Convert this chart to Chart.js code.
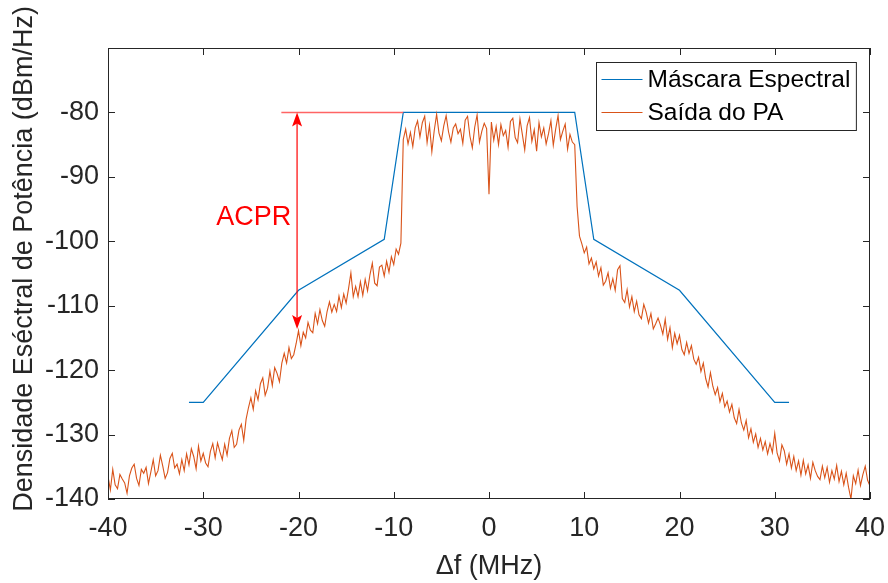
<!DOCTYPE html>
<html>
<head>
<meta charset="utf-8">
<title>Máscara Espectral e Saída do PA</title>
<script src="https://cdn.jsdelivr.net/npm/chart.js@4.4.1/dist/chart.umd.min.js"></script>
<style>
    html, body { margin: 0; padding: 0; background: #ffffff; }
    #wrap { width: 888px; height: 583px; }
</style>
</head>
<body>
<div id="wrap"><canvas id="psdChart" width="888" height="583"></canvas></div>
<script>
// Spectral mask corners (MHz, dBm/Hz)
const maskFreq = [-31.5, -30, -20, -11, -9, 9, 11, 20, 30, 31.5];
const maskLevel = [-125, -125, -107.6, -99.7, -80, -80, -99.7, -107.6, -125, -125];

// PA output PSD, one value every 0.25 MHz starting at -40 MHz
const psdStartMHz = -40;
const psdStepMHz = 0.25;
const psdLevel = [
    // -40 .. -25.75
    -136.5, -138.6, -135.4, -137.8, -138.4, -136.2, -136.9, -137.5, -139.1, -136.4,
    -135.2, -134.6, -136.8, -137.9, -135.4, -136.0, -135.1, -137.6, -135.8, -133.9,
    -136.4, -135.6, -133.2, -134.9, -136.8, -135.9, -133.7, -132.9, -135.2, -134.6,
    -136.1, -133.9, -135.6, -133.0, -134.7, -132.2, -133.4, -135.3, -131.8, -134.1,
    -132.9, -134.4, -135.0, -132.6, -131.4, -133.6, -131.3, -132.7, -133.9, -131.5,
    -133.2, -130.6, -129.4, -132.0, -131.5, -129.3, -128.4, -130.9,
    // -25.5 .. -9.25
    -127.6, -125.8, -124.3, -126.1, -123.2, -124.6, -122.1, -121.2, -123.9, -122.8,
    -120.2, -122.4, -119.6, -120.5, -121.8, -118.9, -117.4, -118.9, -116.5, -118.2,
    -117.6, -115.9, -113.9, -116.2, -114.1, -115.0, -112.6, -113.8, -114.2, -111.2,
    -112.8, -110.6, -112.3, -113.2, -110.9, -109.4, -111.0, -109.8, -110.9, -108.5,
    -110.3, -108.2, -109.6, -107.4, -104.9, -108.6, -107.0, -108.6, -106.3, -108.4,
    -105.9, -107.7, -105.2, -103.4, -106.5, -106.9, -104.0, -103.7, -105.4, -103.1,
    -104.8, -102.4, -103.6, -101.2, -102.0, -100.3,
    // -9 .. -0.25
    -84.2, -82.6, -84.9, -83.1, -85.3, -82.4, -81.3, -83.8, -81.6, -80.6,
    -84.7, -82.0, -86.1, -82.8, -80.3, -83.2, -84.4, -82.1, -80.5, -83.0,
    -84.6, -82.4, -81.8, -83.3, -82.6, -84.8, -81.2, -80.6, -83.7, -85.5,
    -82.3, -80.4, -84.6, -82.9, -81.7, -82.5,
    // 0
    -92.7,
    // 0.25 .. 9
    -81.5, -84.3, -82.2, -85.0, -81.9, -83.6, -82.8, -85.4, -81.4, -80.9,
    -83.9, -84.7, -81.0, -83.4, -85.8, -82.1, -80.8, -84.5, -82.7, -86.0,
    -81.6, -83.8, -82.4, -84.9, -83.3, -81.3, -85.1, -82.6, -80.5, -84.2,
    -82.9, -81.8, -85.7, -83.4, -84.6, -85.0,
    // 9.25 .. 25
    -94.6, -99.2, -100.4, -101.8, -100.9, -103.5, -102.6, -104.3, -103.2, -105.4,
    -104.1, -106.8, -106.2, -104.9, -107.3, -105.8, -107.6, -104.4, -103.8, -108.9,
    -109.5, -107.5, -110.2, -108.6, -110.9, -109.3, -111.4, -112.0, -109.8, -111.0,
    -112.7, -111.2, -113.6, -112.8, -111.9, -113.0, -114.4, -112.1, -115.2, -113.4,
    -116.5, -114.3, -115.9, -114.6, -116.8, -117.6, -115.7, -117.4, -116.2, -118.3,
    -119.1, -118.0, -120.2, -118.9, -121.3, -122.6, -120.4, -122.5, -123.8, -122.7,
    -124.9, -123.6, -125.7, -124.8,
    // 25.25 .. 40
    -126.5, -125.3, -127.4, -128.3, -126.1, -128.2, -129.3, -127.8, -130.5, -129.1,
    -131.2, -129.9, -132.0, -130.6, -132.4, -131.1, -133.0, -131.4, -132.8, -129.8,
    -132.9, -134.1, -131.6, -132.5, -134.6, -133.0, -135.2, -133.4, -135.6, -134.1,
    -136.3, -134.0, -136.1, -134.7, -136.8, -134.3, -135.6, -136.5, -137.0, -134.9,
    -136.7, -135.1, -137.4, -135.6, -136.9, -134.8, -137.3, -135.7, -137.8, -136.0,
    -138.2, -140.0, -136.4, -137.6, -135.5, -137.9, -136.2, -134.9, -137.1, -138.0
];

const xTicks = [-40, -30, -20, -10, 0, 10, 20, 30, 40];
const yTicks = [-140, -130, -120, -110, -100, -90, -80];
const seriesNames = ['Máscara Espectral', 'Saída do PA'];
const xTitle = '\u0394f (MHz)';
const yTitle = 'Densidade Eséctral de Potência (dBm/Hz)';
const acprText = 'ACPR';

const FONT = '"Liberation Sans", Arial, Helvetica, sans-serif';
const AXIS_COLOR = '#262626';
const BLUE = '#0072BD';
const ORANGE = '#D95319';

/**
 * Box around the axes with MATLAB-style inward ticks
 */
const axesBox = {
    id: 'axesBox',
    afterDatasetsDraw(chart) {
        const { ctx, chartArea: a, scales: { x, y } } = chart;
        const len = 7;
        ctx.save();
        ctx.strokeStyle = AXIS_COLOR;
        ctx.lineWidth = 1;
        ctx.beginPath();
        xTicks.forEach(v => {
            const px = Math.round(x.getPixelForValue(v)) + 0.5;
            ctx.moveTo(px, a.bottom); ctx.lineTo(px, a.bottom - len);
            ctx.moveTo(px, a.top); ctx.lineTo(px, a.top + len);
        });
        yTicks.forEach(v => {
            const py = Math.round(y.getPixelForValue(v)) + 0.5;
            ctx.moveTo(a.left, py); ctx.lineTo(a.left + len, py);
            ctx.moveTo(a.right, py); ctx.lineTo(a.right - len, py);
        });
        ctx.stroke();
        ctx.strokeRect(Math.round(a.left) + 0.5, Math.round(a.top) + 0.5,
            Math.round(a.right - a.left) - 1, Math.round(a.bottom - a.top) - 1);
        ctx.restore();
    }
};

/**
 * Y axis title, placed like the original (a bit above the axes centre)
 */
const yAxisTitle = {
    id: 'yAxisTitle',
    afterDraw(chart) {
        const { ctx } = chart;
        ctx.save();
        ctx.translate(25, 259);
        ctx.rotate(-Math.PI / 2);
        ctx.font = '27px ' + FONT;
        ctx.fillStyle = AXIS_COLOR;
        ctx.textAlign = 'center';
        ctx.textBaseline = 'middle';
        ctx.fillText(yTitle, 0, 0);
        ctx.restore();
    }
};

/**
 * ACPR marker: reference line at the mask level and double arrow
 */
const acprMarker = {
    id: 'acprMarker',
    afterDatasetsDraw(chart) {
        const { ctx, scales: { x, y } } = chart;
        const topY = y.getPixelForValue(-80);
        const lowY = y.getPixelForValue(-113.6);
        const ax = x.getPixelForValue(-20.15);

        ctx.save();
        ctx.strokeStyle = '#ff6464';
        ctx.lineWidth = 1.5;
        ctx.beginPath();
        ctx.moveTo(x.getPixelForValue(-21.8), topY);
        ctx.lineTo(x.getPixelForValue(-9), topY);
        ctx.stroke();

        ctx.strokeStyle = '#ff0000';
        ctx.fillStyle = '#ff0000';
        ctx.lineWidth = 1.2;
        ctx.beginPath();
        ctx.moveTo(ax, topY + 4);
        ctx.lineTo(ax, lowY - 4);
        ctx.stroke();

        const head = (tipY, dir) => {
            ctx.beginPath();
            ctx.moveTo(ax, tipY);
            ctx.lineTo(ax - 5, tipY + dir * 14);
            ctx.lineTo(ax, tipY + dir * 11);
            ctx.lineTo(ax + 5, tipY + dir * 14);
            ctx.closePath();
            ctx.fill();
        };
        head(topY, 1);
        head(lowY, -1);

        ctx.font = '27px ' + FONT;
        ctx.textAlign = 'center';
        ctx.textBaseline = 'middle';
        ctx.fillText(acprText, x.getPixelForValue(-24.7), y.getPixelForValue(-96.3));
        ctx.restore();
    }
};

/**
 * Legend box in the upper right corner of the axes
 */
const cornerLegend = {
    id: 'cornerLegend',
    afterDraw(chart) {
        const { ctx, chartArea: a } = chart;
        const sets = chart.data.datasets;
        ctx.save();
        ctx.font = '24.5px ' + FONT;
        const textW = Math.max(...sets.map(d => ctx.measureText(d.label).width));
        const w = 5 + 41 + 5 + textW + 6;
        const h = 68;
        const bx = Math.round(a.right - 14 - w) + 0.5;
        const by = Math.round(a.top + 14) + 0.5;
        ctx.fillStyle = '#ffffff';
        ctx.fillRect(bx, by, w, h);
        ctx.strokeStyle = AXIS_COLOR;
        ctx.lineWidth = 1;
        ctx.strokeRect(bx, by, w, h);

        sets.forEach((d, i) => {
            const ry = by + 17 + i * 33;
            ctx.strokeStyle = d.borderColor;
            ctx.lineWidth = 1.2;
            ctx.beginPath();
            ctx.moveTo(bx + 5, ry);
            ctx.lineTo(bx + 46, ry);
            ctx.stroke();
            ctx.fillStyle = '#000000';
            ctx.textBaseline = 'middle';
            ctx.textAlign = 'left';
            ctx.fillText(d.label, bx + 51, ry + 1);
        });
        ctx.restore();
    }
};

document.addEventListener('DOMContentLoaded', function() {
    const maskPoints = maskFreq.map((f, i) => ({ x: f, y: maskLevel[i] }));
    const psdPoints = psdLevel.map((v, i) => ({ x: psdStartMHz + i * psdStepMHz, y: v }));

    new Chart(document.getElementById('psdChart'), {
        type: 'line',
        data: {
            datasets: [
                {
                    label: seriesNames[0],
                    data: maskPoints,
                    borderColor: BLUE,
                    borderWidth: 1.2,
                    pointRadius: 0,
                    order: 1
                },
                {
                    label: seriesNames[1],
                    data: psdPoints,
                    borderColor: ORANGE,
                    borderWidth: 1.1,
                    pointRadius: 0,
                    order: 0
                }
            ]
        },
        options: {
            responsive: false,
            animation: false,
            devicePixelRatio: 1,
            layout: { padding: { top: 48, right: 18, left: 0, bottom: 0 } },
            plugins: {
                legend: { display: false },
                tooltip: { enabled: false }
            },
            scales: {
                x: {
                    type: 'linear',
                    min: -40,
                    max: 40,
                    afterFit: s => { s.height = 84; s.paddingLeft = 0; s.paddingRight = 0; },
                    afterBuildTicks: s => { s.ticks = xTicks.map(v => ({ value: v })); },
                    grid: { display: false, drawTicks: false },
                    border: { display: false },
                    ticks: {
                        color: AXIS_COLOR,
                        font: { family: FONT, size: 27 },
                        padding: 13,
                        maxRotation: 0
                    },
                    title: {
                        display: true,
                        text: xTitle,
                        color: AXIS_COLOR,
                        font: { family: FONT, size: 27 },
                        padding: { top: 0, bottom: 0 }
                    }
                },
                y: {
                    type: 'linear',
                    min: -140,
                    max: -70,
                    afterFit: s => { s.width = 108; s.paddingTop = 0; s.paddingBottom = 0; },
                    afterBuildTicks: s => { s.ticks = yTicks.map(v => ({ value: v })); },
                    grid: { display: false, drawTicks: false },
                    border: { display: false },
                    ticks: {
                        color: AXIS_COLOR,
                        font: { family: FONT, size: 27 },
                        padding: 9
                    },
                    title: { display: false, text: yTitle }
                }
            }
        },
        plugins: [axesBox, acprMarker, cornerLegend, yAxisTitle]
    });
});
</script>
</body>
</html>
